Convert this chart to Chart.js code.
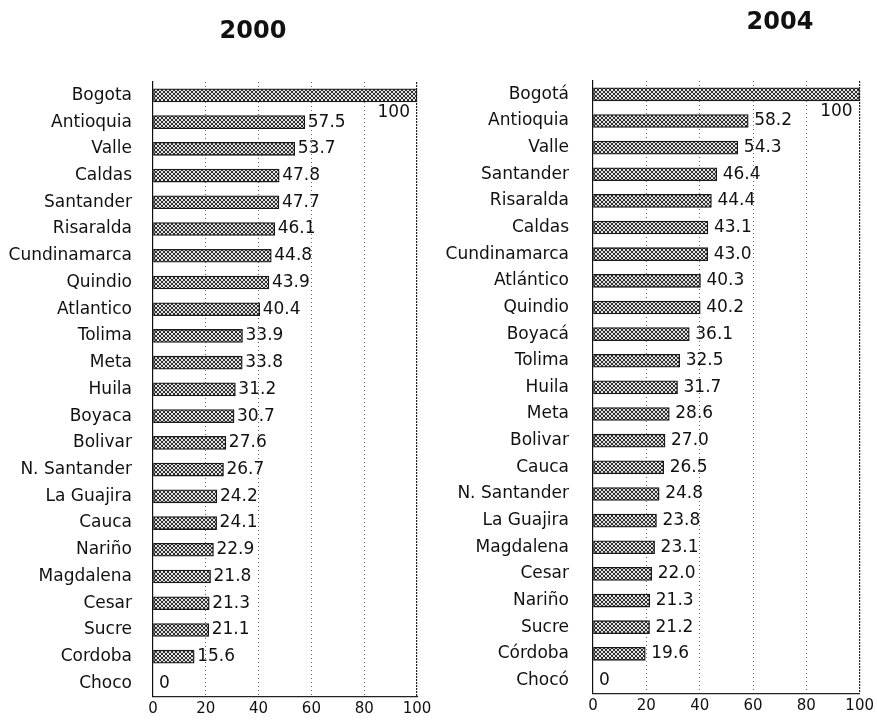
<!DOCTYPE html>
<html>
<head>
<meta charset="utf-8">
<script src="https://cdn.jsdelivr.net/npm/chart.js@4.4.1/dist/chart.umd.min.js"></script>
<style>
    html, body { margin: 0; padding: 0; background: #fff; }
    #wrap { position: relative; width: 877px; height: 720px; overflow: hidden; }
    canvas { position: absolute; top: 0; }
    .title {
        position: absolute; font: bold 24px "DejaVu Sans", sans-serif; color: #111;
        transform: translate(-50%, -50%); white-space: nowrap;
    }
</style>
</head>
<body>
<div id="wrap">
    <canvas id="c2000" width="440" height="720" style="left:0"></canvas>
    <canvas id="c2004" width="437" height="720" style="left:440px"></canvas>
    <div class="title" style="left:253px; top:30px">2000</div>
    <div class="title" style="left:780px; top:21px">2004</div>
</div>
<script>
const regions2000 = ['Bogota', 'Antioquia', 'Valle', 'Caldas', 'Santander', 'Risaralda', 'Cundinamarca',
    'Quindio', 'Atlantico', 'Tolima', 'Meta', 'Huila', 'Boyaca', 'Bolivar', 'N. Santander', 'La Guajira',
    'Cauca', 'Nariño', 'Magdalena', 'Cesar', 'Sucre', 'Cordoba', 'Choco'];
const values2000 = [100, 57.5, 53.7, 47.8, 47.7, 46.1, 44.8, 43.9, 40.4, 33.9, 33.8, 31.2, 30.7, 27.6,
    26.7, 24.2, 24.1, 22.9, 21.8, 21.3, 21.1, 15.6, 0];

const regions2004 = ['Bogotá', 'Antioquia', 'Valle', 'Santander', 'Risaralda', 'Caldas', 'Cundinamarca',
    'Atlántico', 'Quindio', 'Boyacá', 'Tolima', 'Huila', 'Meta', 'Bolivar', 'Cauca', 'N. Santander',
    'La Guajira', 'Magdalena', 'Cesar', 'Nariño', 'Sucre', 'Córdoba', 'Chocó'];
const values2004 = [100, 58.2, 54.3, 46.4, 44.4, 43.1, 43.0, 40.3, 40.2, 36.1, 32.5, 31.7, 28.6, 27.0,
    26.5, 24.8, 23.8, 23.1, 22.0, 21.3, 21.2, 19.6, 0];

const xTicks = [0, 20, 40, 60, 80, 100];

const FONT = '"DejaVu Sans", sans-serif';

// cross-hatched grey fill like the scanned bars
function hatch() {
    const c = document.createElement('canvas');
    c.width = c.height = 4;
    const g = c.getContext('2d');
    g.fillStyle = '#e4e4e4';
    g.fillRect(0, 0, 4, 4);
    g.fillStyle = '#2e2e2e';
    for (let i = 0; i < 4; i++) {
        g.fillRect(i, i, 1, 1);
        g.fillRect(3 - i, i, 1, 1);
    }
    return g.createPattern(c, 'repeat');
}

function fmt(v) {
    return (v === 0 || v === 100) ? String(v) : v.toFixed(1);
}

const valueLabels = {
    id: 'valueLabels',
    afterDatasetsDraw(chart, args, opts) {
        const ctx = chart.ctx;
        const meta = chart.getDatasetMeta(0);
        const data = chart.data.datasets[0].data;
        ctx.save();
        ctx.font = '17px ' + FONT;
        ctx.fillStyle = '#111';
        ctx.textBaseline = 'middle';
        meta.data.forEach((bar, i) => {
            const v = data[i];
            if (v === 100) {
                ctx.textAlign = 'right';
                ctx.fillText(fmt(v), bar.x - 7, bar.y + 17);
            } else {
                ctx.textAlign = 'left';
                ctx.fillText(fmt(v), bar.x + (v === 0 ? 6 : opts.gap), bar.y);
            }
        });
        ctx.restore();
    }
};

function makeChart(id, labels, values, box) {
    return new Chart(document.getElementById(id), {
        type: 'bar',
        data: {
            labels,
            datasets: [{
                data: values,
                backgroundColor: hatch(),
                borderColor: '#1a1a1a',
                borderWidth: 1.3,
                borderSkipped: false,
                barThickness: 13,
            }],
        },
        options: {
            indexAxis: 'y',
            responsive: false,
            animation: false,
            layout: { padding: { top: box.top, right: box.right, bottom: box.bottom, left: 0 } },
            plugins: {
                legend: { display: false },
                tooltip: { enabled: false },
                valueLabels: { gap: box.gap },
            },
            scales: {
                x: {
                    min: 0,
                    max: 100,
                    afterBuildTicks: (scale) => { scale.ticks = xTicks.map(v => ({ value: v })); },
                    afterFit: (scale) => { scale.height = 18; },
                    ticks: { color: '#111', font: { family: FONT, size: 15 }, padding: 3, maxRotation: 0 },
                    grid: {
                        drawTicks: false,
                        color: (c) => c.tick && c.tick.value === 0 ? 'rgba(0,0,0,0)'
                            : (c.tick && c.tick.value === 100 ? '#222' : '#666'),
                        lineWidth: (c) => c.tick && c.tick.value === 100 ? 1.2 : 1,
                    },
                    border: {
                        color: '#222',
                        width: 1.2,
                        dash: (c) => c.tick && c.tick.value === 100 ? [2, 1] : [1, 3],
                    },
                },
                y: {
                    afterFit: (scale) => { scale.width = box.left; },
                    ticks: { color: '#111', font: { family: FONT, size: 17 }, padding: box.labelPad },
                    grid: { display: false },
                    border: { color: '#111', width: 1.2 },
                },
            },
        },
        plugins: [valueLabels],
    });
}

makeChart('c2000', regions2000, values2000,
    { left: 153, top: 82, right: 23, bottom: 0, gap: 3, labelPad: 13 });
makeChart('c2004', regions2004, values2004,
    { left: 153, top: 81, right: 11, bottom: 6, gap: 6, labelPad: 16 });
</script>
</body>
</html>
